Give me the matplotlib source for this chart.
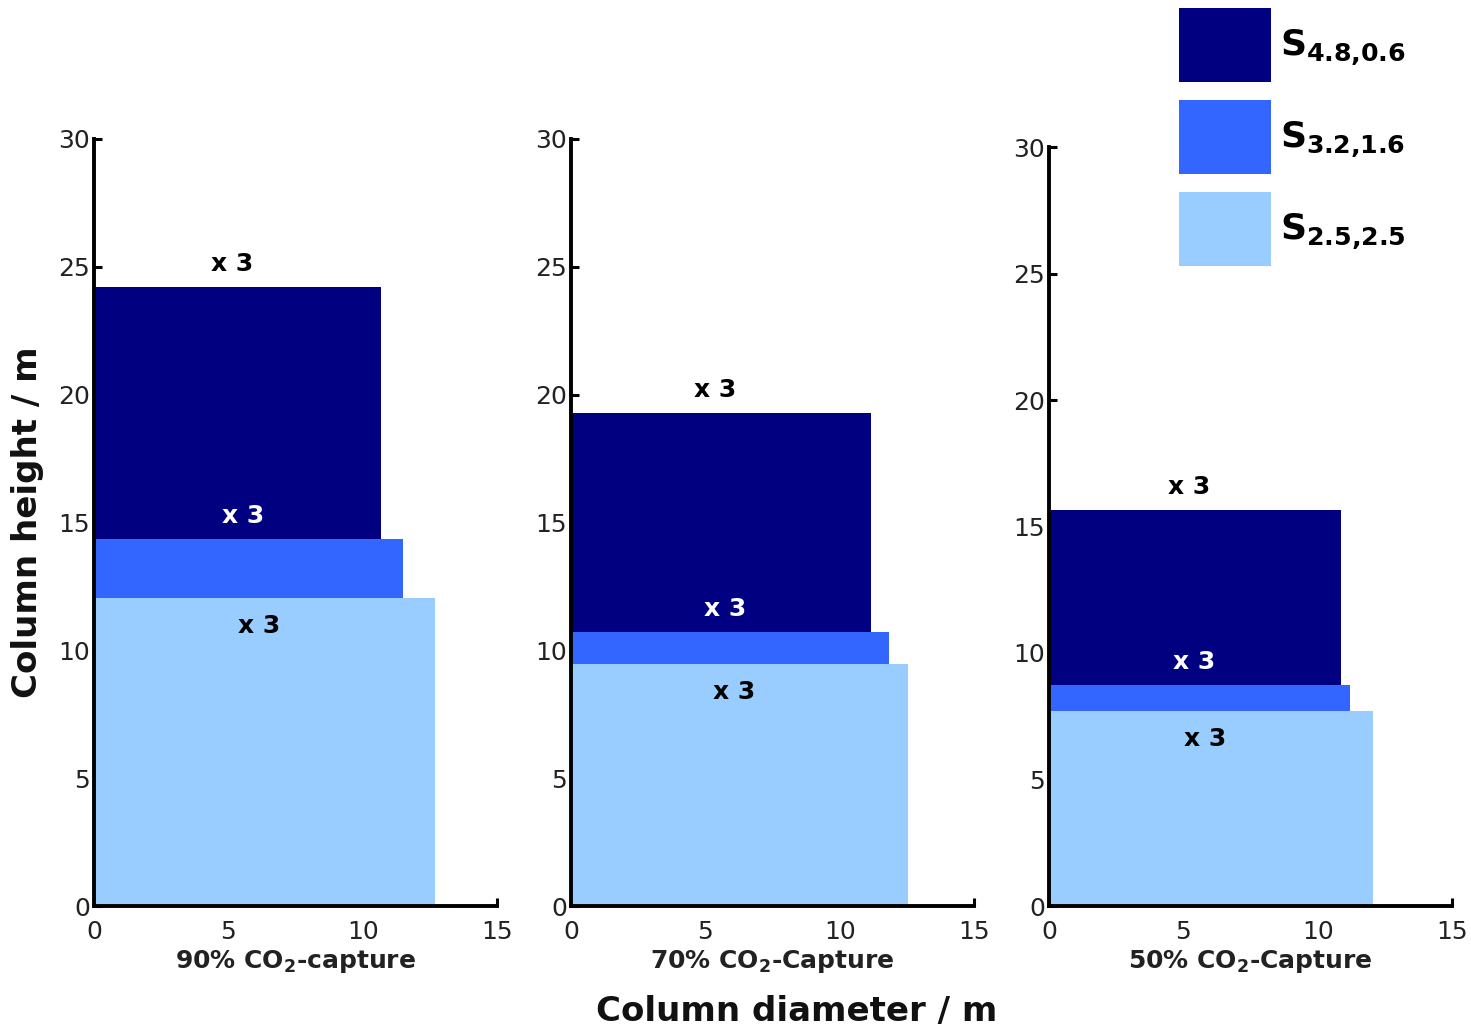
import numpy as np
import matplotlib.pyplot as plt
from matplotlib.patches import Patch

# 三种捕集率
panels = ['90% CO$_\\mathbf{2}$-capture', '70% CO$_\\mathbf{2}$-Capture', '50% CO$_\\mathbf{2}$-Capture']
series = ['$\\mathbf{S_{4.8{,}0.6}}$', '$\\mathbf{S_{3.2{,}1.6}}$', '$\\mathbf{S_{2.5{,}2.5}}$']
colors = ['#000080', '#3366ff', '#99ccff']

# 各段高度 (m)，从下往上：S2.5,2.5 / S3.2,1.6 / S4.8,0.6
h_light = [12.05, 9.47, 7.71]
h_mid = [2.29, 1.23, 1.03]
h_dark = [9.86, 8.60, 6.91]
# 塔径 (m)
d_light = [12.7, 12.54, 12.05]
d_mid = [11.5, 11.84, 11.2]
d_dark = [10.7, 11.15, 10.86]
# 塔数
n_cols = [3, 3, 3]

plt.rcParams['font.family'] = ['DejaVu Sans']
plt.rcParams['mathtext.default'] = 'bf'

fig = plt.figure(figsize=(14.71, 10.31), dpi=100)
lefts = [94 / 1471, 571 / 1471, 1049 / 1471]
tops = [139, 139, 147]

for i in range(3):
    ax = fig.add_axes([lefts[i], 1 - 906 / 1031, 403 / 1471, (906 - tops[i]) / 1031])
    b1 = h_light[i]
    b2 = b1 + h_mid[i]
    b3 = b2 + h_dark[i]
    ax.bar(0, b1, width=d_light[i], align='edge', color=colors[2], zorder=1)
    ax.bar(0, h_mid[i], width=d_mid[i], bottom=b1, align='edge', color=colors[1], zorder=1)
    ax.bar(0, h_dark[i], width=d_dark[i], bottom=b2, align='edge', color=colors[0], zorder=1)

    lab = 'x %d' % n_cols[i]
    ax.text(d_dark[i] / 2 - 0.2, b3 + 0.9, lab, ha='center', va='center',
            fontsize=18, fontweight='bold', color='black')
    ax.text(d_mid[i] / 2 - 0.2, b2 + 0.9, lab, ha='center', va='center',
            fontsize=18, fontweight='bold', color='white')
    ax.text(d_light[i] / 2 - 0.2, b1 - 1.1, lab, ha='center', va='center',
            fontsize=18, fontweight='bold', color='black')

    ax.set_xlim(0, 15)
    ax.set_ylim(0, 30)
    ax.set_xticks([0, 5, 10, 15])
    ax.set_yticks([0, 5, 10, 15, 20, 25, 30])
    ax.set_axisbelow(True)
    for s in ['top', 'right']:
        ax.spines[s].set_visible(False)
    for s in ['left', 'bottom']:
        ax.spines[s].set_linewidth(2.8)
        ax.spines[s].set_zorder(3)
    ax.tick_params(direction='in', length=6, width=2.2, labelsize=18,
                   labelcolor='#222222')
    ax.tick_params(axis='x', pad=10)
    ax.tick_params(axis='y', pad=3)
    ax.set_xlabel(panels[i], fontsize=18, fontweight='bold', color='#222222', labelpad=3)

fig.text(797 / 1471, 1 - 1012 / 1031, 'Column diameter / m', ha='center', va='center',
         fontsize=24.5, fontweight='bold', color='#111111')
fig.text(28 / 1471, 1 - 522 / 1031, 'Column height / m', ha='center', va='center',
         rotation=90, fontsize=24.5, fontweight='bold', color='#111111')

handles = [Patch(facecolor=c) for c in colors]
fig.legend(handles, series, loc='upper left', bbox_to_anchor=(1179 / 1471, 1 - 8 / 1031),
           frameon=False, fontsize=26, handlelength=2.54, handleheight=2.77,
           labelspacing=0.5, handletextpad=0.25, borderpad=0, borderaxespad=0)

plt.savefig('out.png', dpi=100)
